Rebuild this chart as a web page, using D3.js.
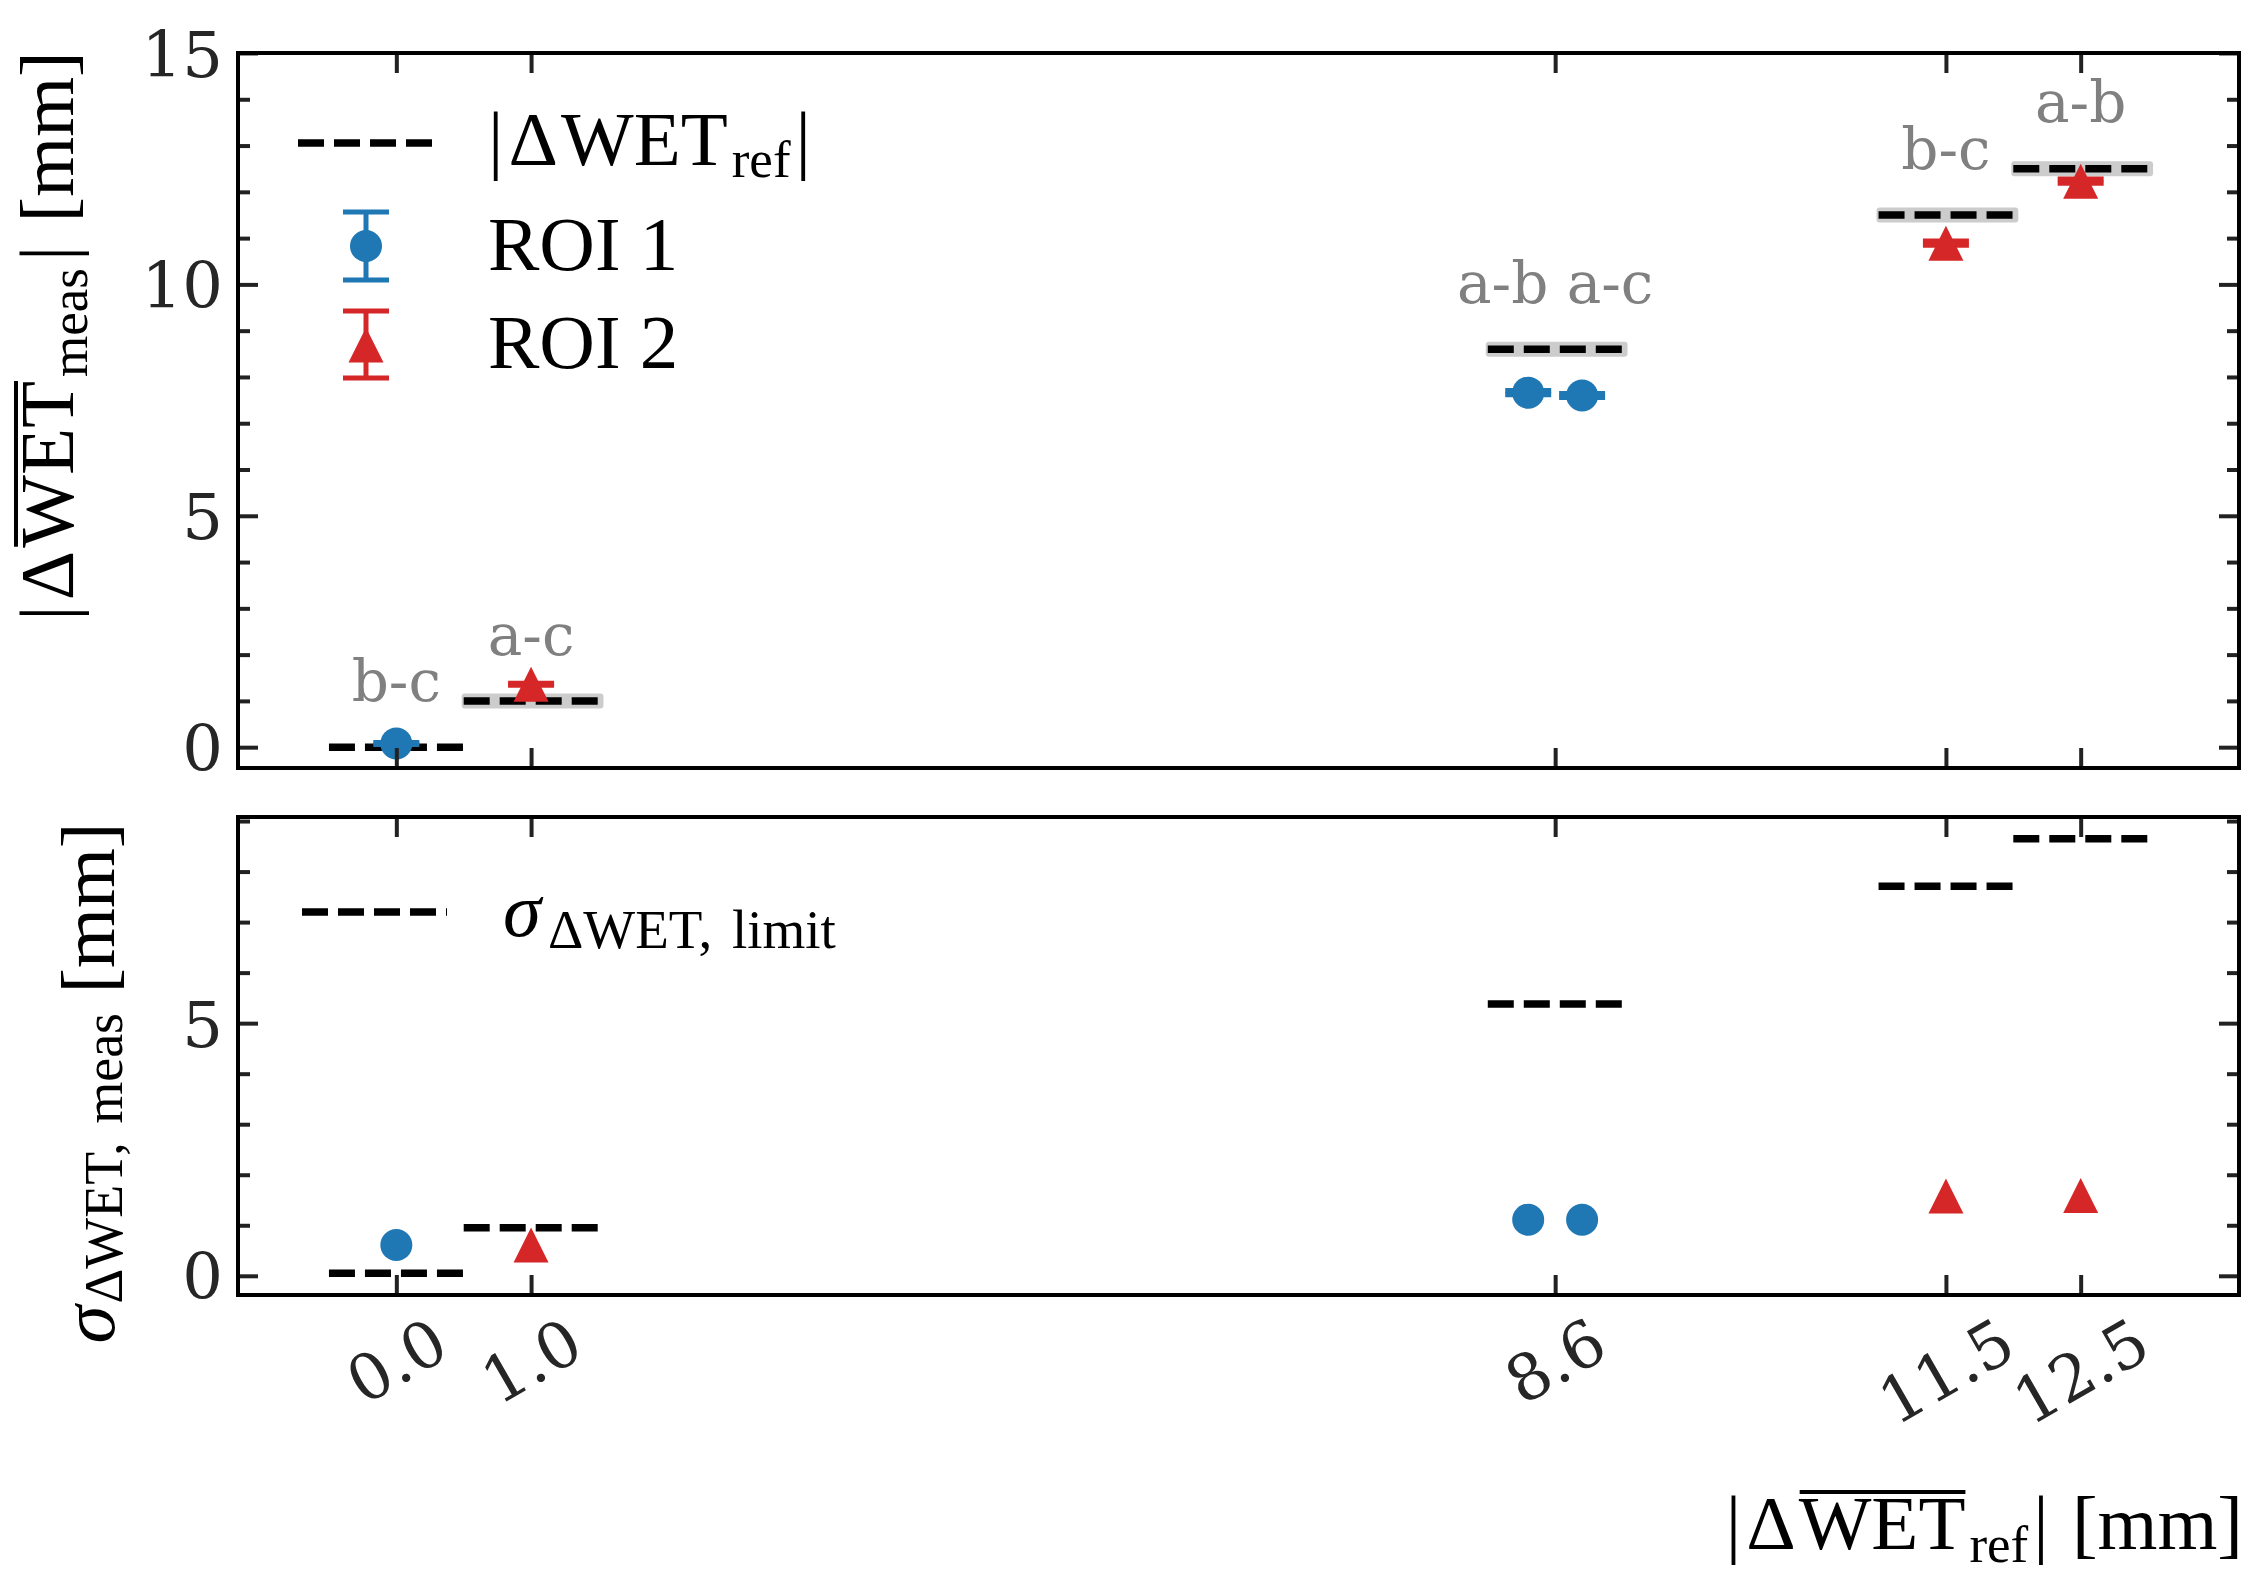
<!DOCTYPE html>
<html>
<head>
<meta charset="utf-8">
<script src="https://cdn.jsdelivr.net/npm/d3@7"></script>
<style>
  html, body { margin: 0; padding: 0; background: #fff; }
  svg { display: block; }
</style>
</head>
<body>
<svg id="chart" width="2266" height="1583"></svg>
<script>
// ---------------- data ----------------
const xTickVals   = [0.0, 1.0, 8.6, 11.5, 12.5];
const xTickLabels = ["0.0", "1.0", "8.6", "11.5", "12.5"];

const refX    = [0.0, 1.0, 8.6, 11.5, 12.5];
const refVals = [0.0, 1.0, 8.6, 11.5, 12.5];
const refBand = [false, true, true, true, true];

const annoX    = [0.0, 1.0, 8.6, 11.5, 12.5];
const annoText = ["b-c", "a-c", "a-b a-c", "b-c", "a-b"];

const roi1X     = [0.0, 8.4, 8.8];
const roi1Mean  = [0.08, 7.66, 7.60];
const roi1Err   = [0.02, 0.045, 0.045];
const roi1Sigma = [0.61, 1.11, 1.11];

const roi2X     = [1.0, 11.5, 12.5];
const roi2Mean  = [1.36, 10.89, 12.23];
const roi2Err   = [0.02, 0.045, 0.045];
const roi2Sigma = [0.61, 1.58, 1.59];

const limitVals = [0.05, 0.95, 5.38, 7.71, 8.65];

const topYTicks = [0, 5, 10, 15];
const botYTicks = [0, 5];

// ---------------- setup ----------------
const BLUE = "#1f77b4", RED = "#d62728", GRAY = "#808080", BAND = "#cccccc";
const MATH = "'Liberation Serif', 'Times New Roman', serif";
const TICKF = "'DejaVu Serif', serif";
const FS = 77, SUB = 53;
const svg = d3.select("#chart");
svg.append("rect").attr("width", 2266).attr("height", 1583).attr("fill", "#fff");

const X0 = 238, X1 = 2239;
const xs = d3.scaleLinear().domain([-1.175, 13.675]).range([X0, X1]);
const yTop = d3.scaleLinear().domain([-0.45, 15]).range([768, 53]);
const yBot = d3.scaleLinear().domain([-0.38, 9.08]).range([1295, 817]);

function minorTicks(scale, majors) {
  const [a, b] = scale.domain();
  const out = [];
  for (let v = Math.ceil(a); v <= b; v++) if (!majors.includes(v)) out.push(v);
  return out;
}

function drawAxes(ys, majors) {
  const [yb, yt] = ys.range();
  const styleAx = g => {
    g.select(".domain").remove();
    g.selectAll(".tick line").attr("stroke", "#222").attr("stroke-width", 4);
    g.selectAll(".tick text").attr("font-family", TICKF).attr("font-size", 64).attr("fill", "#262626");
  };
  svg.append("g").attr("transform", `translate(${X0},0)`)
    .call(d3.axisLeft(ys).tickValues(majors).tickSize(-20).tickPadding(15).tickFormat(d3.format("d")))
    .call(styleAx)
    .call(g => g.selectAll(".tick text").attr("dy", "0.36em"));
  svg.append("g").attr("transform", `translate(${X0},0)`)
    .call(d3.axisLeft(ys).tickValues(minorTicks(ys, majors)).tickSize(-12).tickFormat(""))
    .call(styleAx);
  svg.append("g").attr("transform", `translate(${X1},0)`)
    .call(d3.axisRight(ys).tickValues(majors).tickSize(-20).tickFormat(""))
    .call(styleAx);
  svg.append("g").attr("transform", `translate(${X1},0)`)
    .call(d3.axisRight(ys).tickValues(minorTicks(ys, majors)).tickSize(-12).tickFormat(""))
    .call(styleAx);
  svg.append("g").attr("transform", `translate(0,${yb})`)
    .call(d3.axisBottom(xs).tickValues(xTickVals).tickSize(-20).tickFormat(""))
    .call(styleAx);
  svg.append("g").attr("transform", `translate(0,${yt})`)
    .call(d3.axisTop(xs).tickValues(xTickVals).tickSize(-20).tickFormat(""))
    .call(styleAx);
}

function drawFrame(ys) {
  const [yb, yt] = ys.range();
  svg.append("rect").attr("x", X0).attr("y", yt).attr("width", X1 - X0).attr("height", yb - yt)
    .attr("fill", "none").attr("stroke", "#000").attr("stroke-width", 4);
}

function rich(parent, parts, x, y, anchor, rot) {
  const outer = parent.append("g").attr("transform", `translate(${x},${y}) rotate(${rot || 0})`);
  const inner = outer.append("g");
  let cx = 0;
  for (const p of parts) {
    if (p.gap !== undefined) { cx += p.gap; continue; }
    const t = inner.append("text").attr("x", cx).attr("y", p.dy || 0)
      .attr("font-family", p.family || MATH).attr("font-size", p.size || FS)
      .attr("font-style", p.italic ? "italic" : null)
      .attr("fill", p.fill || "#000").style("white-space", "pre").text(p.t);
    const w = t.node().getComputedTextLength();
    if (p.over) {
      inner.append("line").attr("x1", cx + 1).attr("x2", cx + w).attr("y1", -57).attr("y2", -57)
        .attr("stroke", "#000").attr("stroke-width", 4);
    }
    cx += w;
  }
  const shift = anchor === "end" ? -cx : anchor === "middle" ? -cx / 2 : 0;
  inner.attr("transform", `translate(${shift},0)`);
  return outer;
}

function triPath(cx, cy, s) {
  const h = s / 2;
  return `M${cx},${cy - h}L${cx + h},${cy + h}L${cx - h},${cy + h}Z`;
}

function errorbar(g, x, y1, y2, color) {
  g.append("line").attr("x1", x).attr("x2", x).attr("y1", y1).attr("y2", y2)
    .attr("stroke", color).attr("stroke-width", 5);
  [y1, y2].forEach(yy => g.append("line").attr("x1", x - 23).attr("x2", x + 23)
    .attr("y1", yy).attr("y2", yy).attr("stroke", color).attr("stroke-width", 5));
}

// ================= TOP PANEL =================
const gTop = svg.append("g");
refX.forEach((x, i) => {
  if (!refBand[i]) return;
  gTop.append("rect").attr("x", xs(x - 0.5) - 2).attr("width", xs(x + 0.5) - xs(x - 0.5) + 7)
    .attr("y", yTop(refVals[i]) - 7.5).attr("height", 15).attr("rx", 3).attr("fill", BAND);
});
refX.forEach((x, i) => {
  gTop.append("line").attr("x1", xs(x - 0.5)).attr("x2", xs(x + 0.5))
    .attr("y1", yTop(refVals[i])).attr("y2", yTop(refVals[i]))
    .attr("stroke", "#000").attr("stroke-width", 7.5).attr("stroke-dasharray", "26,10");
});
annoX.forEach((x, i) => {
  gTop.append("text").attr("x", xs(x)).attr("y", yTop(refVals[i] + 1.0))
    .attr("text-anchor", "middle").attr("font-family", TICKF).attr("font-size", 58)
    .attr("fill", GRAY).style("white-space", "pre").text(annoText[i]);
});
roi1X.forEach((x, i) => {
  errorbar(gTop, xs(x), yTop(roi1Mean[i] + roi1Err[i]), yTop(roi1Mean[i] - roi1Err[i]), BLUE);
  gTop.append("circle").attr("cx", xs(x)).attr("cy", yTop(roi1Mean[i])).attr("r", 16).attr("fill", BLUE);
});
roi2X.forEach((x, i) => {
  errorbar(gTop, xs(x), yTop(roi2Mean[i] + roi2Err[i]), yTop(roi2Mean[i] - roi2Err[i]), RED);
  gTop.append("path").attr("d", triPath(xs(x), yTop(roi2Mean[i]), 35)).attr("fill", RED);
});
drawAxes(yTop, topYTicks);
drawFrame(yTop);

// legend top
svg.append("line").attr("x1", 298).attr("x2", 432).attr("y1", 143).attr("y2", 143)
  .attr("stroke", "#000").attr("stroke-width", 7.5).attr("stroke-dasharray", "26,10");
rich(svg, [{t: "|"}, {gap: 5}, {t: "Δ"}, {gap: 3}, {t: "WET"}, {gap: 4}, {t: "ref", size: SUB, dy: 12}, {gap: 5}, {t: "|"}],
  488, 165, "start", 0);
{
  const lg = svg.append("g");
  errorbar(lg, 366, 212, 280, BLUE);
  lg.append("circle").attr("cx", 366).attr("cy", 246).attr("r", 16).attr("fill", BLUE);
  errorbar(lg, 366, 311, 378, RED);
  lg.append("path").attr("d", triPath(366, 345, 35)).attr("fill", RED);
  lg.append("text").attr("x", 488).attr("y", 270).attr("font-family", MATH).attr("font-size", FS).text("ROI 1");
  lg.append("text").attr("x", 488).attr("y", 368).attr("font-family", MATH).attr("font-size", FS).text("ROI 2");
}
rich(svg, [{t: "|"}, {gap: 5}, {t: "Δ"}, {gap: 3}, {t: "WET", over: true}, {gap: 4}, {t: "meas", size: SUB, dy: 14}, {gap: 7}, {t: "|"}, {gap: 4}, {t: " [mm]"}],
  73, 336, "middle", -90);

// ================= BOTTOM PANEL =================
const gBot = svg.append("g");
refX.forEach((x, i) => {
  gBot.append("line").attr("x1", xs(x - 0.5)).attr("x2", xs(x + 0.5))
    .attr("y1", yBot(limitVals[i])).attr("y2", yBot(limitVals[i]))
    .attr("stroke", "#000").attr("stroke-width", 7.5).attr("stroke-dasharray", "26,10");
});
roi1X.forEach((x, i) => {
  gBot.append("circle").attr("cx", xs(x)).attr("cy", yBot(roi1Sigma[i])).attr("r", 16).attr("fill", BLUE);
});
roi2X.forEach((x, i) => {
  gBot.append("path").attr("d", triPath(xs(x), yBot(roi2Sigma[i]), 35)).attr("fill", RED);
});
drawAxes(yBot, botYTicks);
drawFrame(yBot);

xTickVals.forEach((v, i) => {
  const g = svg.append("g");
  const t = g.append("text").attr("text-anchor", "middle").attr("y", 23)
    .attr("font-family", TICKF).attr("font-size", 64).attr("fill", "#262626").text(xTickLabels[i]);
  const w = t.node().getComputedTextLength();
  const h = w * 0.5 + 46.7 * Math.cos(Math.PI / 6);
  g.attr("transform", `translate(${xs(v)},${1315 + h / 2}) rotate(-30)`);
});

svg.append("line").attr("x1", 302).attr("x2", 447).attr("y1", 912).attr("y2", 912)
  .attr("stroke", "#000").attr("stroke-width", 7.5).attr("stroke-dasharray", "26,10");
rich(svg, [{t: "σ", italic: true}, {gap: 7}, {t: "ΔWET,", size: 55, dy: 12}, {gap: 6}, {t: " limit", size: 55, dy: 12}], 503, 936, "start", 0);

rich(svg, [{t: "σ", italic: true}, {gap: 2}, {t: "ΔWET,", size: 54, dy: 8}, {gap: 5}, {t: " meas", size: 54, dy: 8}, {t: " [mm]"}],
  114, 1083, "middle", -90);

rich(svg, [{t: "|"}, {gap: 5}, {t: "Δ"}, {gap: 3}, {t: "WET", over: true}, {gap: 4}, {t: "ref", size: SUB, dy: 13}, {gap: 5}, {t: "|"}, {gap: 4}, {t: " [mm]"}],
  2243, 1549, "end", 0);
</script>
</body>
</html>
